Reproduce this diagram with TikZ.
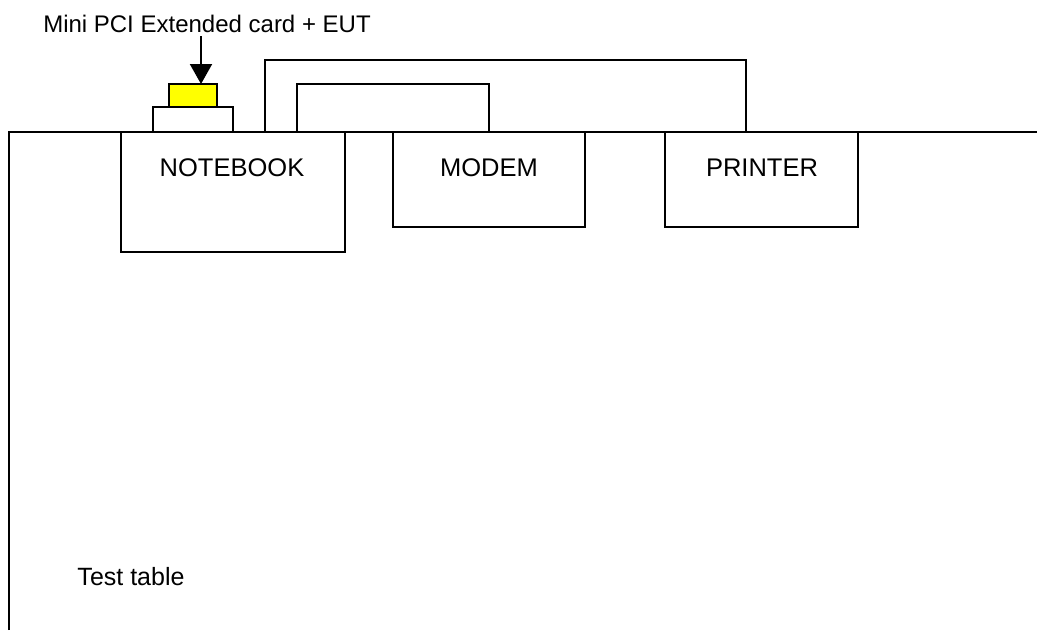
\documentclass[tikz,border=0pt]{standalone}
\usepackage{fontspec}
\setmainfont{Liberation Sans}
\usetikzlibrary{arrows.meta,calc}
\definecolor{cardyellow}{RGB}{255,255,0}
\tikzset{
  box/.style={draw=black, fill=white, line width=2pt, inner sep=0pt, outer sep=0pt, anchor=north west},
  boxlabel/.style={anchor=base, inner sep=0pt, font=\fontsize{25.5}{30}\selectfont},
  plainlabel/.style={anchor=base, inner sep=0pt, font=\fontsize{24}{29}\selectfont},
  cable/.style={draw=black, line width=2pt},
}
\begin{document}
\begin{tikzpicture}[x=1pt,y=-1pt]
\useasboundingbox (0,0) rectangle (1037,630);
% test table
\coordinate (tl) at (9,132);
\coordinate (tb) at (9,630);
\coordinate (tr) at (1037,132);
\draw[line width=2pt] (tb) -- (tl) -- (tr);
% equipment
\node[box, minimum width=224pt, minimum height=120pt] (nb) at (121,132) {};
\node[box, minimum width=192pt, minimum height=95pt] (mo) at (393,132) {};
\node[box, minimum width=193pt, minimum height=95pt] (pr) at (665,132) {};
% cables
\draw[cable] ($(nb.north west)+(144,0)$) -- ++(0,-72) -| ($(pr.north west)+(81,0)$);
\draw[cable] ($(nb.north west)+(176,0)$) -- ++(0,-48) -| (mo.north);
% slot and card
\node[box, minimum width=80pt, minimum height=25pt] (slot) at (153,107) {};
\node[box, fill=cardyellow, minimum width=48pt, minimum height=23pt] (card) at (169,84) {};
% labels
\node[boxlabel] (nbt) at (232,176) {NOTEBOOK};
\node[boxlabel] (mot) at (489,176) {MODEM};
\node[boxlabel] (prt) at (762,176) {PRINTER};
\node[plainlabel] (cardt) at (207,32) {Mini PCI Extended card + EUT};
\node[plainlabel, font=\fontsize{25}{30}\selectfont] (tt) at (131,585) {Test table};
\draw[line width=2pt, -{Triangle[width=22pt,length=20pt]}] (201,36) -- (card.north -| 201,0);
\end{tikzpicture}
\end{document}
